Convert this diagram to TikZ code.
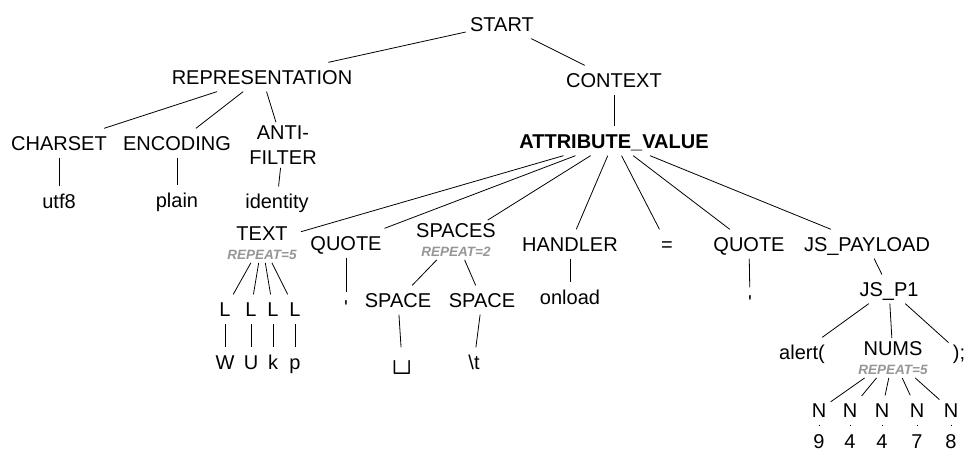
\documentclass[tikz,border=0pt]{standalone}
\usepackage{fontspec}
\setmainfont{Liberation Sans}
\usepackage{xcolor}
\definecolor{repgray}{RGB}{150,150,150}
\newcommand{\repl}[1]{{\fontsize{13.5}{14}\selectfont\bfseries\itshape\color{repgray}#1}}

\begin{document}
\begin{tikzpicture}[x=1pt,y=-1pt,line width=0.8pt,
  tok/.style={font=\fontsize{20}{24}\selectfont,inner xsep=4pt,inner ysep=7pt,text height=14.5pt,text depth=0pt},
  rep/.style={font=\fontsize{20}{24}\selectfont,align=center,inner xsep=4pt,inner ysep=3pt}]
\useasboundingbox (0,0) rectangle (972,451);
\node[tok] (start) at (502,24) {START};
\node[tok] (repr) at (262,77) {REPRESENTATION};
\node[tok] (context) at (614,80) {CONTEXT};
\node[tok] (av) at (614,141) {\bfseries ATTRIBUTE\_VALUE};
\node[tok] (charset) at (59,143) {CHARSET};
\node[tok] (encoding) at (177,143) {ENCODING};
\node[rep] (anti) at (283,145) {ANTI-\\[1pt]FILTER};
\node[tok] (utf) at (59,201) {utf8};
\node[tok] (plain) at (177,200) {plain};
\node[tok] (identity) at (277,201) {identity};
\node[rep] (text) at (262,243) {TEXT\\[-5pt]\repl{REPEAT=5}};
\node[tok] (quoteA) at (346,243) {QUOTE};
\node[rep] (spaces) at (456,240) {SPACES\\[-5pt]\repl{REPEAT=2}};
\node[tok] (handler) at (570,244) {HANDLER};
\node[tok] (eq) at (667,244) {=};
\node[tok] (quoteB) at (749,244) {QUOTE};
\node[tok] (jspay) at (867,244) {JS\_PAYLOAD};
\node[tok] (qa) at (346,307) {\textquotesingle};
\node[tok] (spA) at (398,300) {SPACE};
\node[tok] (spB) at (482,300) {SPACE};
\node[tok] (vis) at (402,362) {{\ttfamily\fontsize{38}{38}\selectfont\textvisiblespace}};
\node[tok] (tab) at (474,362) {\textbackslash t};
\node[tok] (onload) at (570,297) {onload};
\node[tok] (qb) at (750,302) {\textquotesingle};
\node[tok] (jsp1) at (889,289) {JS\_P1};
\node[tok] (alert) at (802,352) {alert(};
\node[rep] (nums) at (893,358) {NUMS\\[-5pt]\repl{REPEAT=5}};
\node[tok] (semi) at (959,352) {);};
% letters under TEXT
\foreach \i/\x/\c in {1/225/W,2/251/U,3/273/k,4/295/p}{
  \node[tok] (l\i) at (\x,309) {L};
  \node[tok] (c\i) at (\x,362) {\c};
  \draw (text) -- (l\i);
  \draw (l\i) -- (c\i);
}
% digits under NUMS
\foreach \i/\x/\d in {1/819/9,2/850/4,3/882/4,4/917/7,5/951/8}{
  \node[tok] (n\i) at (\x,410) {N};
  \node[tok] (d\i) at (\x,441) {\d};
  \draw (nums) -- (n\i);
  \draw (n\i) -- (d\i);
}
\draw (start) -- (repr);
\draw (start) -- (context);
\draw (context) -- (av);
\draw (repr) -- (charset);
\draw (repr) -- (encoding);
\draw (repr) -- (anti);
\draw (charset) -- (utf);
\draw (encoding) -- (plain);
\draw (anti) -- (identity);
\draw (av) -- (text);
\draw (av) -- (quoteA);
\draw (av) -- (spaces);
\draw (av) -- (handler);
\draw (av) -- (eq);
\draw (av) -- (quoteB);
\draw (av) -- (jspay);
\draw (quoteA) -- (qa);
\draw (spaces) -- (spA);
\draw (spaces) -- (spB);
\draw (spA) -- (vis);
\draw (spB) -- (tab);
\draw (handler) -- (onload);
\draw (quoteB) -- (qb);
\draw (jspay) -- (jsp1);
\draw (jsp1) -- (alert);
\draw (jsp1) -- (nums);
\draw (jsp1) -- (semi);
\end{tikzpicture}
\end{document}
